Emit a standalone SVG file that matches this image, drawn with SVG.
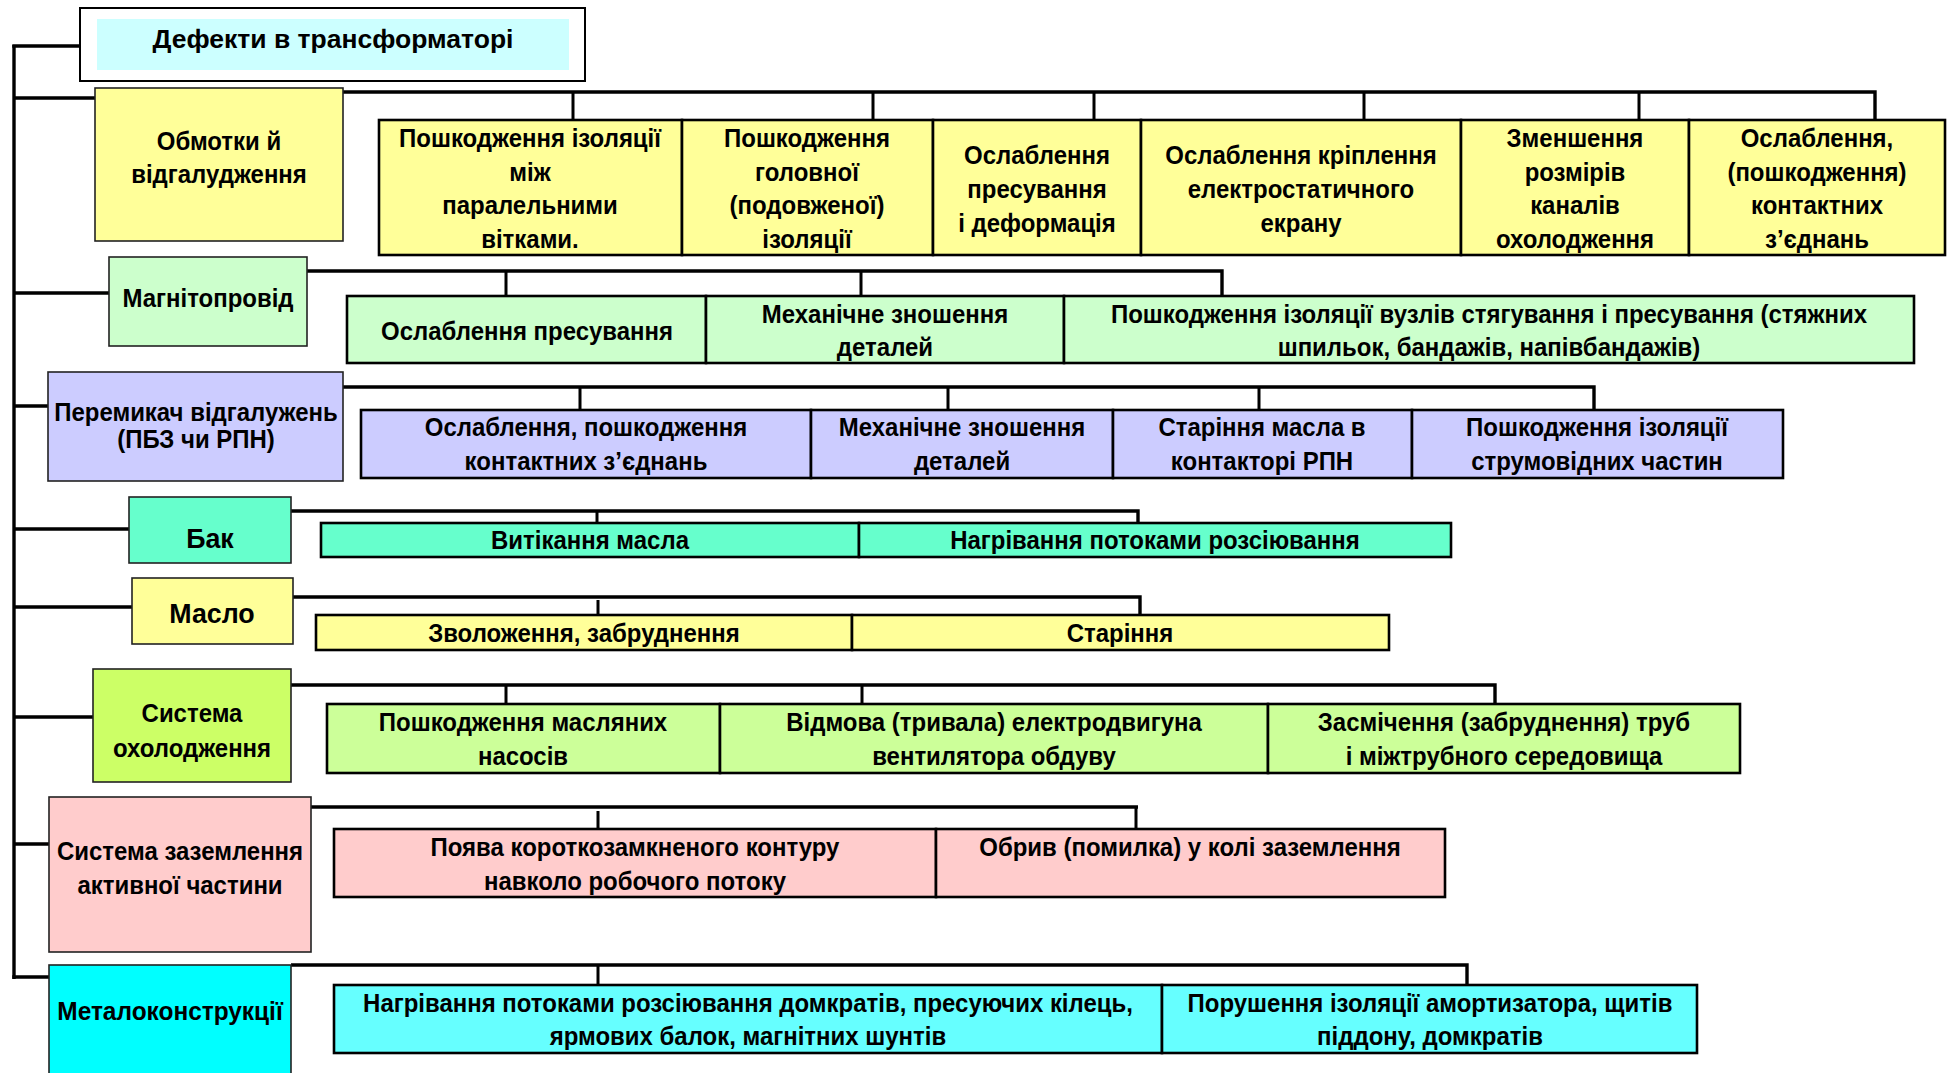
<svg xmlns="http://www.w3.org/2000/svg" width="1957" height="1073" viewBox="0 0 1957 1073">
  <style>
    text { font-family: "Liberation Sans", Arial, sans-serif; font-weight: bold; font-size: 25.5px; fill: #000; text-anchor: middle;
           transform-box: fill-box; transform-origin: center; transform: scaleX(0.94); }
    .cat { stroke: #222; stroke-width: 1.6; }
    .sub { stroke: #000; stroke-width: 2.6; }
    .wire { stroke: #000; stroke-width: 3.4; fill: none; stroke-linecap: butt; }
    .drop { stroke: #000; stroke-width: 3; fill: none; }
    .yellow { fill: #FFFF99; }
    .green { fill: #CCFFCC; }
    .violet { fill: #CCCCFF; }
    .aqua { fill: #66FFCC; }
    .lime { fill: #CCFF66; }
    .lime2 { fill: #CCFF99; }
    .pink { fill: #FFCCCC; }
    .cyan { fill: #00FFFF; }
    .cyan2 { fill: #66FFFF; }
    .big { font-size: 28.5px; }
    .head { font-size: 26.5px; transform: none; }
  </style>

  <rect width="1957" height="1073" fill="#fff"/>

  <!-- connectors: left trunk, stubs to categories, buses and drops to defects -->
  <g id="connectors">
    <path class="wire" d="M14 45 V979"/>
    <path class="wire" d="M12.3 46 H80 M14 98 H95 M14 293 H109 M14 406 H48 M14 529 H129 M14 607 H132 M14 717 H93 M14 844 H49 M12.3 977 H49"/>

    <!-- windings -->
    <path class="wire" d="M343 92 H1875 V120"/>
    <path class="drop" d="M573 92 V120 M873 92 V120 M1094 92 V120 M1364 92 V120 M1639 92 V120"/>
    <!-- core -->
    <path class="wire" d="M307 271 H1222 V296"/>
    <path class="drop" d="M506 271 V296 M861 271 V296"/>
    <!-- tap changer -->
    <path class="wire" d="M343 387 H1594 V410"/>
    <path class="drop" d="M580 387 V410 M948 387 V410 M1259 387 V410"/>
    <!-- tank -->
    <path class="wire" d="M291 511 H1138 V523"/>
    <path class="drop" d="M597 511 V523"/>
    <!-- oil -->
    <path class="wire" d="M293 597 H1140 V614"/>
    <path class="drop" d="M598 600 V614"/>
    <!-- cooling -->
    <path class="wire" d="M291 685 H1495 V704"/>
    <path class="drop" d="M506 685 V704 M862 685 V704"/>
    <!-- grounding -->
    <path class="wire" d="M311 807 H1138"/>
    <path class="drop" d="M1136 807 V829 M598 811 V829"/>
    <!-- metal structures -->
    <path class="wire" d="M291 965 H1467 V985"/>
    <path class="drop" d="M598 965 V985"/>
  </g>

  <!-- root -->
  <g id="root">
    <rect x="80" y="8" width="505" height="73" fill="#fff" stroke="#000" stroke-width="2"/>
    <rect x="97" y="19" width="472" height="51" fill="#CCFFFF"/>
    <text class="head" x="333" y="48">Дефекти в трансформаторі</text>
  </g>

  <!-- Windings and taps -->
  <g id="windings">
    <rect class="cat yellow" x="95" y="88" width="248" height="153"/>
    <text x="219" y="150">Обмотки й</text>
    <text x="219" y="183">відгалудження</text>
  </g>
  <g id="w1">
    <rect class="sub yellow" x="379" y="120" width="303" height="135"/>
    <text x="530" y="147">Пошкодження ізоляції</text>
    <text x="530" y="181">між</text>
    <text x="530" y="214">паралельними</text>
    <text x="530" y="248">вітками.</text>
  </g>
  <g id="w2">
    <rect class="sub yellow" x="682" y="120" width="251" height="135"/>
    <text x="807" y="147">Пошкодження</text>
    <text x="807" y="181">головної</text>
    <text x="807" y="214">(подовженої)</text>
    <text x="807" y="248">ізоляції</text>
  </g>
  <g id="w3">
    <rect class="sub yellow" x="933" y="120" width="208" height="135"/>
    <text x="1037" y="164">Ослаблення</text>
    <text x="1037" y="198">пресування</text>
    <text x="1037" y="232">і деформація</text>
  </g>
  <g id="w4">
    <rect class="sub yellow" x="1141" y="120" width="320" height="135"/>
    <text x="1301" y="164">Ослаблення кріплення</text>
    <text x="1301" y="198">електростатичного</text>
    <text x="1301" y="232">екрану</text>
  </g>
  <g id="w5">
    <rect class="sub yellow" x="1461" y="120" width="228" height="135"/>
    <text x="1575" y="147">Зменшення</text>
    <text x="1575" y="181">розмірів</text>
    <text x="1575" y="214">каналів</text>
    <text x="1575" y="248">охолодження</text>
  </g>
  <g id="w6">
    <rect class="sub yellow" x="1689" y="120" width="256" height="135"/>
    <text x="1817" y="147">Ослаблення,</text>
    <text x="1817" y="181">(пошкодження)</text>
    <text x="1817" y="214">контактних</text>
    <text x="1817" y="248">з’єднань</text>
  </g>

  <!-- Magnetic core -->
  <g id="core">
    <rect class="cat green" x="109" y="257" width="198" height="89"/>
    <text x="208" y="307">Магнітопровід</text>
  </g>
  <g id="c1">
    <rect class="sub green" x="347" y="296" width="359" height="67"/>
    <text x="527" y="340">Ослаблення пресування</text>
  </g>
  <g id="c2">
    <rect class="sub green" x="706" y="296" width="358" height="67"/>
    <text x="885" y="323">Механічне зношення</text>
    <text x="885" y="356">деталей</text>
  </g>
  <g id="c3">
    <rect class="sub green" x="1064" y="296" width="850" height="67"/>
    <text x="1489" y="323">Пошкодження ізоляції вузлів стягування і пресування (стяжних</text>
    <text x="1489" y="356">шпильок, бандажів, напівбандажів)</text>
  </g>

  <!-- Tap changer -->
  <g id="tapchanger">
    <rect class="cat violet" x="48" y="372" width="295" height="109"/>
    <text x="196" y="421">Перемикач відгалужень</text>
    <text x="196" y="448">(ПБЗ чи РПН)</text>
  </g>
  <g id="t1">
    <rect class="sub violet" x="361" y="410" width="450" height="68"/>
    <text x="586" y="436">Ослаблення, пошкодження</text>
    <text x="586" y="470">контактних з’єднань</text>
  </g>
  <g id="t2">
    <rect class="sub violet" x="811" y="410" width="302" height="68"/>
    <text x="962" y="436">Механічне зношення</text>
    <text x="962" y="470">деталей</text>
  </g>
  <g id="t3">
    <rect class="sub violet" x="1113" y="410" width="299" height="68"/>
    <text x="1262" y="436">Старіння масла в</text>
    <text x="1262" y="470">контакторі РПН</text>
  </g>
  <g id="t4">
    <rect class="sub violet" x="1412" y="410" width="371" height="68"/>
    <text x="1597" y="436">Пошкодження ізоляції</text>
    <text x="1597" y="470">струмовідних частин</text>
  </g>

  <!-- Tank -->
  <g id="tank">
    <rect class="cat aqua" x="129" y="497" width="162" height="66"/>
    <text class="big" x="210" y="548">Бак</text>
  </g>
  <g id="k1">
    <rect class="sub aqua" x="321" y="523" width="538" height="34"/>
    <text x="590" y="549">Витікання масла</text>
  </g>
  <g id="k2">
    <rect class="sub aqua" x="859" y="523" width="592" height="34"/>
    <text x="1155" y="549">Нагрівання потоками розсіювання</text>
  </g>

  <!-- Oil -->
  <g id="oil">
    <rect class="cat yellow" x="132" y="578" width="161" height="66"/>
    <text class="big" x="212" y="623">Масло</text>
  </g>
  <g id="o1">
    <rect class="sub yellow" x="316" y="615" width="536" height="35"/>
    <text x="584" y="642">Зволоження, забруднення</text>
  </g>
  <g id="o2">
    <rect class="sub yellow" x="852" y="615" width="537" height="35"/>
    <text x="1120" y="642">Старіння</text>
  </g>

  <!-- Cooling system -->
  <g id="cooling">
    <rect class="cat lime" x="93" y="669" width="198" height="113"/>
    <text x="192" y="722">Система</text>
    <text x="192" y="757">охолодження</text>
  </g>
  <g id="s1">
    <rect class="sub lime2" x="327" y="704" width="393" height="69"/>
    <text x="523" y="731">Пошкодження масляних</text>
    <text x="523" y="765">насосів</text>
  </g>
  <g id="s2">
    <rect class="sub lime2" x="720" y="704" width="548" height="69"/>
    <text x="994" y="731">Відмова (тривала) електродвигуна</text>
    <text x="994" y="765">вентилятора обдуву</text>
  </g>
  <g id="s3">
    <rect class="sub lime2" x="1268" y="704" width="472" height="69"/>
    <text x="1504" y="731">Засмічення (забруднення) труб</text>
    <text x="1504" y="765">і міжтрубного середовища</text>
  </g>

  <!-- Grounding of the active part -->
  <g id="grounding">
    <rect class="cat pink" x="49" y="797" width="262" height="155"/>
    <text x="180" y="860">Система заземлення</text>
    <text x="180" y="894">активної частини</text>
  </g>
  <g id="g1">
    <rect class="sub pink" x="334" y="829" width="602" height="68"/>
    <text x="635" y="856">Поява короткозамкненого контуру</text>
    <text x="635" y="890">навколо робочого потоку</text>
  </g>
  <g id="g2">
    <rect class="sub pink" x="936" y="829" width="509" height="68"/>
    <text x="1190" y="856">Обрив (помилка) у колі заземлення</text>
  </g>

  <!-- Metal structures -->
  <g id="metal">
    <rect class="cat cyan" x="49" y="965" width="242" height="120"/>
    <text x="170" y="1020" style="font-size:26px">Металоконструкції</text>
  </g>
  <g id="m1">
    <rect class="sub cyan2" x="334" y="985" width="828" height="68"/>
    <text x="748" y="1012">Нагрівання потоками розсіювання домкратів, пресуючих кілець,</text>
    <text x="748" y="1045">ярмових балок, магнітних шунтів</text>
  </g>
  <g id="m2">
    <rect class="sub cyan2" x="1162" y="985" width="535" height="68"/>
    <text x="1430" y="1012">Порушення ізоляції амортизатора, щитів</text>
    <text x="1430" y="1045">піддону, домкратів</text>
  </g>
</svg>
